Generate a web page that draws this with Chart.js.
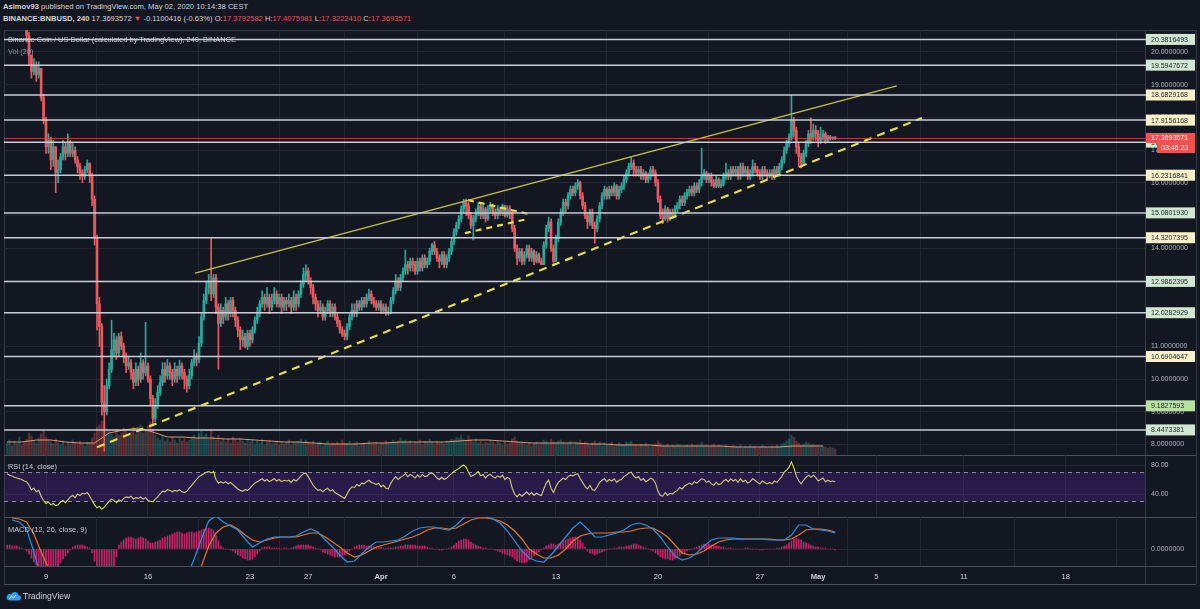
<!DOCTYPE html>
<html lang="en">
<head>
<meta charset="UTF-8">
<title>BNBUSD 240</title>
<script src="https://cdn.jsdelivr.net/npm/chart.js"></script>
<style>
  html, body { margin: 0; padding: 0; background: #131722; }
  body { width: 1200px; height: 609px; position: relative; overflow: hidden;
         font-family: "Liberation Sans", Arial, sans-serif; color: #d1d4dc; }
  .hdr { position: absolute; left: 3px; font-size: 7.6px; white-space: nowrap; color: #d1d4dc; }
  .red { color: #ef5350; }
  .ln { position: absolute; background: #363a45; }
  .sep { position: absolute; background: #4a4e5a; }
  canvas { position: absolute; left: 0; }
  .lbl { position: absolute; left: 8px; font-size: 7.4px; white-space: nowrap; color: #c8cbd3; }
  #logo { position: absolute; left: 6px; top: 591px; font-size: 8.6px; color: #d1d4dc; }
  #logo svg { vertical-align: -2px; margin-right: 2px; }
</style>
</head>
<body>
<div class="hdr" style="top:2px"><b>Asimov93</b> published on TradingView.com, May 02, 2020 10:14:38 CEST</div>
<div class="hdr" style="top:14px"><b>BINANCE:BNBUSD, 240</b> 17.3693572 <span class="red">&#9660;</span> -0.1100416 (-0.63%) O:<span class="red">17.3792582</span> H:<span class="red">17.4075981</span> L:<span class="red">17.3222410</span> C:<span class="red">17.3693571</span></div>

<div class="ln" style="left:4px;top:30px;width:1192px;height:1px"></div>
<div class="ln" style="left:4px;top:30px;width:1px;height:554px"></div>
<div class="ln" style="left:1196px;top:30px;width:1px;height:554px"></div>
<div class="ln" style="left:1145px;top:30px;width:1px;height:554px"></div>
<div class="sep" style="left:4px;top:455px;width:1192px;height:1px"></div>
<div class="sep" style="left:4px;top:517px;width:1192px;height:1px"></div>
<div class="sep" style="left:4px;top:566px;width:1192px;height:1px"></div>
<div class="sep" style="left:4px;top:584px;width:1192px;height:1px"></div>

<canvas id="cMain" width="1200" height="425" style="top:30px"></canvas>
<canvas id="cRsi" width="1200" height="62" style="top:455px"></canvas>
<canvas id="cMacd" width="1200" height="67" style="top:517px"></canvas>

<div class="lbl" style="top:35px">Binance Coin / US Dollar (calculated by TradingView), 240, BINANCE</div>
<div class="lbl" style="top:47px;color:#9598a1">Vol (20)</div>
<div class="lbl" style="top:462px">RSI (14, close)</div>
<div class="lbl" style="top:525px">MACD (12, 26, close, 9)</div>
<div id="logo"><svg width="15" height="10" viewBox="0 0 15 10"><path d="M3 9.6h9.2a2.7 2.7 0 0 0 .3-5.4A3.9 3.9 0 0 0 5.3 3 2.9 2.9 0 0 0 3 9.6z" fill="#2e9ef4"/><path d="M3.5 7.6l2.2-2.4 1.8 1.6 2.6-2.8" stroke="#fff" stroke-width="1" fill="none"/></svg>TradingView</div>

<script>
// 4h candles, index 0 = Mar 6 08:00
const firstOpen = 21.1;
const closes = [
  21.3,21.5,21.2,21.4,21.0,21.3,21.1,20.9,20.5,19.9,
  19.4,19.6,19.3,19.5,18.6,17.9,17.1,17.3,16.7,17.1,
  16.3,16.4,16.8,17.1,16.9,17.2,16.9,17.0,16.7,16.5,
  16.3,16.2,16.4,16.6,16.2,15.5,14.3,12.3,11.6,9.3,
  9.0,9.8,10.3,10.9,11.2,10.8,11.3,11.0,10.7,10.4,
  10.5,10.2,9.9,10.3,10.0,10.5,10.2,10.4,10.0,9.4,
  8.8,9.2,9.6,9.9,10.3,10.1,10.4,10.2,10.0,10.3,
  10.1,10.4,10.2,10.0,9.8,10.1,10.5,10.7,10.6,11.1,
  11.9,12.4,12.8,13.0,12.6,13.1,12.2,11.7,12.1,11.9,
  12.3,12.0,12.4,12.1,11.8,11.5,11.2,11.3,11.0,11.4,
  11.2,11.5,11.8,12.0,12.3,12.5,12.3,12.5,12.2,12.4,
  12.6,12.3,12.5,12.2,12.4,12.3,12.4,12.2,12.5,12.3,
  12.6,12.9,13.2,13.3,13.0,12.8,12.5,12.3,12.1,12.2,
  11.9,12.1,12.3,12.0,12.2,11.9,11.7,11.5,11.4,11.3,
  11.6,11.9,12.1,12.0,12.3,12.2,12.4,12.3,12.5,12.6,
  12.4,12.3,12.2,12.3,12.1,12.2,12.0,12.05,12.4,12.7,
  13.0,12.8,13.1,13.3,13.5,13.4,13.6,13.5,13.3,13.6,
  13.4,13.7,13.5,13.6,13.9,14.1,13.9,13.7,13.6,13.8,
  13.5,13.7,13.9,14.2,14.5,14.7,14.9,15.2,15.4,15.3,
  15.0,14.7,14.9,15.1,15.3,15.0,15.2,14.9,15.2,15.3,
  15.1,15.0,15.2,15.1,15.3,15.0,15.2,15.1,14.6,14.0,
  13.7,13.9,13.6,13.8,14.0,13.7,13.9,13.6,13.8,13.6,
  13.5,14.1,14.6,14.8,14.0,13.6,14.3,14.8,15.1,15.4,
  15.3,15.6,15.8,15.7,15.9,16.0,15.6,15.3,15.0,14.8,
  15.1,14.7,14.6,14.9,15.3,15.6,15.8,15.6,15.8,15.7,
  15.9,15.6,15.8,15.9,16.1,16.3,16.5,16.6,16.4,16.3,
  16.4,16.2,16.3,16.1,16.2,16.4,16.3,16.0,15.5,15.0,
  14.9,15.2,14.9,15.1,15.0,15.2,15.3,15.5,15.4,15.6,
  15.7,15.8,15.7,15.9,15.8,16.0,16.2,16.3,16.1,16.2,
  16.0,15.9,16.1,15.9,15.95,16.2,16.3,16.2,16.4,16.3,
  16.4,16.2,16.5,16.3,16.4,16.2,16.3,16.5,16.4,16.3,
  16.2,16.4,16.3,16.2,16.3,16.2,16.4,16.3,16.5,16.7,
  17.0,17.2,17.4,17.9,17.6,17.1,16.8,16.6,16.9,17.2,
  17.5,17.4,17.6,17.5,17.3,17.4,17.5,17.3,17.4,17.35,17.38,17.37
];
const highs = [
  21.6,21.8,21.6,21.6,21.5,21.5,21.4,21.2,21.0,20.6,
  19.9,19.8,19.7,19.7,19.5,18.7,18.0,17.5,17.4,17.3,
  17.1,16.7,16.9,17.3,17.2,17.5,17.3,17.2,17.1,16.8,
  16.6,16.4,16.5,16.7,16.6,16.3,15.6,14.4,12.5,11.7,
  9.8,10.0,10.5,11.8,11.4,11.3,11.4,11.44,11.1,10.8,
  10.7,10.6,10.3,10.5,10.4,10.8,10.6,11.74,10.5,10.1,
  9.5,9.4,9.8,10.1,10.5,10.5,10.6,10.5,10.3,10.5,
  10.4,10.58,10.5,10.3,10.1,10.3,10.6,10.9,10.8,11.3,
  12.0,12.6,13.0,13.2,14.3,13.2,13.2,12.3,12.3,12.2,
  12.5,12.4,12.5,12.5,12.2,11.9,11.6,11.5,11.4,11.5,
  11.5,11.6,11.9,12.2,12.4,12.7,12.6,12.8,12.6,12.6,
  12.8,12.7,12.6,12.6,12.5,12.5,12.6,12.5,12.7,12.6,
  12.7,13.0,13.4,13.5,13.4,13.1,12.9,12.6,12.4,12.4,
  12.3,12.2,12.4,12.4,12.3,12.3,12.0,11.8,11.6,11.5,
  11.7,12.0,12.3,12.3,12.4,12.4,12.5,12.5,12.6,12.75,
  12.7,12.5,12.4,12.4,12.4,12.3,12.3,12.2,12.5,12.8,
  13.2,13.1,13.2,13.4,13.95,13.6,13.7,13.7,13.6,13.7,
  13.7,13.8,13.8,13.7,14.0,14.16,14.2,14.0,13.8,13.9,
  13.9,13.8,14.0,14.3,14.6,14.8,15.0,15.3,15.5,15.5,
  15.4,15.1,15.0,15.2,15.4,15.35,15.3,15.25,15.3,15.4,
  15.35,15.2,15.3,15.25,15.35,15.3,15.3,15.3,15.15,14.7,
  14.1,14.0,14.0,13.9,14.1,14.1,14.0,13.95,13.9,13.85,
  13.7,14.2,14.7,14.95,14.9,14.1,14.4,14.9,15.2,15.5,
  15.5,15.7,15.9,15.9,16.0,16.1,16.05,15.7,15.4,15.1,
  15.2,15.2,14.8,15.0,15.4,15.7,15.9,15.85,15.9,15.9,
  16.0,15.95,15.9,16.0,16.2,16.4,16.6,16.8,16.7,16.5,
  16.5,16.5,16.4,16.35,16.3,16.5,16.5,16.4,16.1,15.6,
  15.2,15.3,15.25,15.2,15.2,15.3,15.4,15.6,15.6,15.7,
  15.8,15.9,15.9,16.0,16.0,16.1,17.06,16.4,16.35,16.3,
  16.3,16.1,16.2,16.15,16.1,16.3,16.6,16.4,16.5,16.5,
  16.5,16.5,16.6,16.6,16.5,16.5,16.4,16.7,16.6,16.5,
  16.4,16.5,16.5,16.4,16.4,16.4,16.5,16.5,16.6,16.8,
  17.1,17.3,17.5,18.68,18.0,17.7,17.2,16.9,17.0,17.3,
  17.6,17.98,17.8,17.75,17.6,17.7,17.6,17.55,17.45,17.45,17.41,17.41
];
const lows = [
  21.0,21.2,21.0,21.1,20.8,20.9,20.9,20.7,20.3,19.6,
  19.2,19.3,19.1,19.2,18.5,17.8,16.9,16.9,16.4,16.5,
  15.7,16.0,16.3,16.7,16.7,16.8,16.8,16.8,16.6,16.3,
  16.1,16.0,16.1,16.3,16.0,15.3,14.1,11.5,11.0,8.9,
  7.8,8.9,9.7,10.2,10.7,10.6,10.7,10.9,10.5,10.2,
  10.3,10.0,9.7,9.8,9.8,9.9,10.0,10.1,9.9,9.2,
  8.57,8.7,9.1,9.5,9.8,9.9,10.0,10.0,9.8,9.9,
  9.9,10.0,10.0,9.7,9.6,9.7,10.0,10.4,10.4,10.5,
  11.0,11.8,12.3,12.6,12.4,12.5,12.0,10.3,11.6,11.7,
  11.8,11.8,11.9,11.9,11.6,11.3,10.9,11.0,10.95,10.9,
  11.0,11.1,11.4,11.7,11.9,12.2,12.1,12.2,12.0,12.1,
  12.3,12.2,12.2,12.0,12.1,12.1,12.2,12.0,12.1,12.1,
  12.2,12.5,12.8,13.0,12.9,12.6,12.3,12.1,11.9,12.0,
  11.8,11.8,12.0,11.9,11.9,11.8,11.6,11.4,11.3,11.2,
  11.2,11.5,11.8,11.9,11.9,12.1,12.1,12.2,12.2,12.4,
  12.3,12.2,12.1,12.1,12.0,12.0,11.95,11.95,12.0,12.3,
  12.6,12.7,12.7,13.0,13.2,13.2,13.3,13.3,13.2,13.2,
  13.3,13.3,13.4,13.4,13.5,13.8,13.8,13.6,13.4,13.5,
  13.4,13.4,13.6,13.8,14.1,14.4,14.6,14.8,15.1,15.0,
  14.9,14.6,14.25,14.8,15.0,14.9,14.9,14.8,14.85,15.1,
  15.0,14.9,14.9,15.0,15.0,14.95,14.95,14.9,14.5,13.9,
  13.5,13.6,13.5,13.5,13.7,13.6,13.6,13.5,13.55,13.55,
  13.5,13.5,14.0,14.5,13.9,13.5,13.6,14.2,14.7,15.0,
  15.1,15.2,15.5,15.6,15.6,15.8,15.5,15.2,14.9,14.6,
  14.7,14.6,14.15,14.5,14.8,15.2,15.5,15.5,15.5,15.6,
  15.6,15.5,15.5,15.7,15.8,16.0,16.2,16.4,16.2,16.2,
  16.2,16.1,16.1,16.0,16.0,16.1,16.2,15.9,15.4,14.9,
  14.75,14.85,14.8,14.85,14.9,14.95,15.1,15.2,15.3,15.3,
  15.5,15.6,15.6,15.6,15.7,15.7,15.9,16.1,16.0,16.0,
  15.9,15.85,15.85,15.85,15.85,15.9,16.1,16.1,16.1,16.2,
  16.2,16.1,16.1,16.2,16.2,16.1,16.1,16.2,16.3,16.2,
  16.1,16.1,16.2,16.1,16.15,16.1,16.1,16.2,16.2,16.4,
  16.6,16.9,17.1,17.3,17.4,16.9,16.5,16.45,16.55,16.8,
  17.1,17.2,17.3,17.3,17.1,17.2,17.3,17.2,17.25,17.3,17.32,17.32
];
const volumes = [
  12,15,9,14,11,18,10,13,16,22,19,14,12,17,21,24,18,15,13,11,
  16,12,10,14,9,13,11,15,12,10,14,11,9,13,12,17,22,28,30,34,
  32,26,24,21,18,25,20,22,27,24,19,23,28,21,26,30,22,25,29,33,
  26,20,17,15,19,14,16,13,18,15,12,17,14,16,13,15,18,20,17,22,
  24,19,21,16,26,18,15,20,14,17,13,16,12,18,15,13,17,14,12,16,
  13,15,11,14,12,16,10,13,15,11,12,14,10,13,11,12,15,10,13,12,
  14,16,12,15,13,11,14,10,12,13,9,11,14,10,12,11,13,10,15,12,
  11,14,10,12,13,9,11,12,10,14,12,11,13,10,12,11,14,12,13,15,
  12,14,17,13,15,12,14,11,13,12,15,10,14,12,16,13,11,14,12,13,
  11,14,13,16,15,18,17,20,16,14,19,15,13,16,12,14,11,13,12,15,
  13,11,14,12,10,13,11,12,16,18,14,12,13,11,10,12,9,11,13,10,
  12,15,14,11,16,13,12,14,15,13,11,12,14,10,13,12,15,11,13,12,
  10,12,14,11,13,9,12,10,11,13,9,10,12,11,10,13,12,14,11,10,
  9,11,10,12,9,8,10,11,14,12,10,9,11,8,10,9,11,10,8,9,
  10,8,11,9,10,8,13,9,10,8,9,11,8,10,9,8,10,9,8,10,
  9,8,10,7,9,8,10,8,9,7,8,10,9,7,8,9,8,10,9,11,
  12,14,16,20,18,14,12,10,11,13,12,10,11,9,10,8,9,8,7,8,
  7,6
];
// Vol (20) average, one reading per day (every 6th candle)
const volAvg = [
  13,13,15,15,13,12,12,22,25,27,
  23,18,18,17,17,16,16,15,14,13,
  13,12,11,11,11,12,12,13,13,13,
  13,14,15,15,14,13,12,12,12,12,
  11,11,10,10,10,9,9,9,9,9,
  8,8,8,8,9,9,9
];
const rsi = [
  68,66,65,63,62,61,60,58,57,52, 46,48,43,45,37,31,27,29,25,27,
  24,25,29,31,28,32,36,38,35,40, 38,41,40,42,37,31,25,21,23,19,
  22,26,30,33,31,28,32,30,34,36, 35,37,33,35,34,36,33,35,31,30,
  29,33,36,40,44,43,46,45,43,45, 44,46,43,42,44,48,52,56,60,64,
  66,68,70,71,69,71,60,55,57,55, 57,54,56,53,50,47,45,44,46,45,
  48,52,55,57,59,61,58,60,57,59, 61,58,60,57,59,58,59,56,60,58,
  61,65,68,69,64,58,52,48,45,46, 43,46,48,44,46,42,40,38,36,34,
  40,46,50,49,53,51,55,54,57,59, 56,55,53,55,50,52,48,47,55,60,
  64,60,63,65,68,64,67,65,62,66, 63,67,64,65,68,69,66,62,60,63,
  60,62,65,68,71,73,75,78,80,77, 70,64,66,68,71,65,67,62,66,67,
  64,62,65,63,66,60,63,61,48,40, 36,40,37,40,43,39,42,38,41,39,
  38,47,55,59,48,42,50,56,59,62, 60,64,66,65,67,68,61,56,50,47,
  52,46,45,50,56,59,61,57,60,58, 61,56,59,60,64,66,69,70,65,62,
  64,59,61,57,59,62,60,55,44,38, 37,42,38,41,40,43,45,49,47,51,
  53,55,53,57,55,58,61,60,56,58, 54,52,56,53,54,58,60,57,61,58,
  60,56,61,57,59,55,57,61,59,56, 54,58,56,54,56,54,58,56,60,64,
  70,73,77,84,76,65,58,54,59,63, 66,63,66,63,58,60,62,57,59,57,
  58,57
];
// MACD and signal in hundredths, read every 3rd candle starting at candle 2
const macdLine = [
  29,27,20,-3,-28,-45,-60,-70,-75,-80,
  -80,-90,-130,-140,-130,-115,-100,-95,-95,-100,
  -95,-80,-62,-45,-28,-10,10,28,33,27,
  23,19,10,2,6,10,12,12,12,13,
  17,20,17,9,2,-6,-13,-12,-5,2,
  7,7,8,9,13,18,21,22,22,20,
  19,24,31,33,33,32,30,26,18,8,
  -2,-9,-12,-13,-6,3,12,21,27,20,
  12,12,14,16,19,24,26,24,20,12,
  2,-7,-11,-9,-4,3,9,11,11,11,
  10,10,10,10,9,9,9,14,24,24,
  20,19,18,16
];
const signalLine = [
  31,30,27,15,-3,-19,-35,-50,-60,-68,
  -72,-77,-95,-110,-118,-118,-115,-112,-108,-106,
  -104,-98,-88,-75,-58,-38,-17,3,16,22,
  24,20,14,9,7,9,11,12,12,12,
  14,16,16,12,7,2,-4,-8,-6,-2,
  2,4,6,8,10,12,15,19,21,21,
  20,21,25,29,31,31,30,28,24,18,
  10,0,-5,-9,-9,-6,0,8,13,15,
  16,16,16,17,17,18,20,21,21,17,
  12,4,-4,-6,-5,-2,3,7,9,10,
  10,10,10,10,10,9,9,10,14,19,
  20,20,19,17
];
const macdHist = [
  4,4,3,3, 3,2,1,0,-2, -5,-9,-13,-16, -20,-22,-24,-25,-25,-24,-22,-20,
  -17,-14,-10,-7,-4,-1, 2,3,4,4,4,3,2,1,
  -4,-12,-20,-25,-26,-26,-25,-23,-20,-17,-8,
  4,7,9,11,12,12,11,10,11,12,11,10,8,6, 6,7,8,9,
  11,12,13,14,15,16,17,17,16,15,16,17,17,16,17,18,
  19,20,21,21,20,19,14,8, 3,1,0,0,-1,-2,-4,-6,
  -7,-9,-10,-11,-11,-10,-8,-5,-2,
  1,2,2,2,1,1,1,1,0,1,1,0,1,2,3,4,4, 4,4,4,3,2,1,0,
  -1,-3,-4,-5,-6,-7,-8,-8,-8,-7,-6,-4,-2, 0,2,3,4,4,4,3,3,
  3,2,2,2,2,1,1,1,1,1,2,2,3,3,4,4,4,4,4,3,3,3,3,2,1,1,0,0,-1,-1,0,0,1,
  2,4,6,8,9,10,10,9,7,5,4, 3,2,1,1,0,0,0,-1,-2,-3,-4,-5,-6,-7,
  -8,-10,-12,-13,-14,-14,-13,-11,-9,-7,-5,-3, -1,1,3,4,5,5,4,5,
  6,8,9,10,11,12,12,11,9,6, 2,-2,-4,-5,-6,-5,-4,
  -3,-2,-1,0,0,1,1,2,2,2,3,3, 4,5,5,4,
  3,2,1,0,-1,-2,-4,-6,-8,-9,-10,-10,-11, -11,-10,-9,-7,-5,-4,-2,-1,
  0,1,2,3,4,5,5,5,4,4,3,3,2,
  2,1,1,1,0,0,0,0,0,1,1,0,0,0,0,-1,-1,0,0,0,0,0,1,1,2,3,4,6,
  8,10,11,10,9,7, 6,5,4,3,2,2,1,1,1,0,0,0,-1
];

// horizontal levels drawn on the chart
const levels = [20.3816493, 19.5947672, 18.6829168, 17.9156168, 17.2428632, 16.2316841,
  15.0801930, 14.3207395, 12.9862395, 12.0282929, 10.6904647, 9.1827593, 8.4473381];
const levelTags = ['g','g','c','c','g','c','g','c','g','g','c','b','g'];
const lastPrice = 17.3693571;
const countdown = '03:45:23';

// trendlines: [candle index, price]
const upperLine = [[77.4, 13.24], [366.4, 18.96]];
const lowerLine = [[37, 7.92], [376.7, 17.98]];
const flagTop = [[189.8, 15.47], [214.5, 15.05]];
const flagBottom = [[188.5, 14.46], [214.1, 14.89]];

// x axis
const tickIdx = [16, 58, 100, 124, 154, 184, 226, 268, 310, 334, 358, 394, 436];
const tickLabels = ['9','16','23','27','Apr','6','13','20','27','May','5','11','18'];
const priceTicks = [8,9,10,11,12,13,14,15,16,17,18,19,20];
const rsiTicks = [40, 80];
const rsiBounds = [30, 70];

Chart.defaults.font.family = '"Liberation Sans", Arial, sans-serif';
Chart.defaults.font.size = 7;
Chart.defaults.color = '#b2b5be';

const UP = '#2aa89b', DOWN = '#e95a5e';
const opens = closes.map((c, i) => (i === 0 ? firstOpen : closes[i - 1]));
const isUp = closes.map((c, i) => c >= opens[i]);

function xAxis(showLabels) {
  return {
    type: 'linear', min: -1.3, max: 468.6, offset: false,
    grid: { color: '#232733', drawTicks: false },
    border: { display: false },
    afterBuildTicks: s => { s.ticks = tickIdx.map(v => ({ value: v })); },
    ticks: {
      display: showLabels, padding: 6, color: '#d1d4dc', autoSkip: false, maxRotation: 0,
      callback: (v, k) => tickLabels[k],
      font: c => ({ size: 7.6, weight: /[A-Za-z]/.test(tickLabels[c.index] || '') ? 'bold' : 'normal' })
    },
    afterFit: s => { s.height = showLabels ? 18 : 0; s.paddingLeft = 0; s.paddingRight = 0; }
  };
}
function yAxis(min, max, ticks, fmt) {
  return {
    position: 'right', min: min, max: max,
    grid: { color: '#232733', drawTicks: false },
    border: { display: false },
    afterBuildTicks: s => { s.ticks = ticks.map(v => ({ value: v })); },
    ticks: { padding: 6, color: '#b2b5be', font: { size: 7 }, callback: fmt },
    afterFit: s => { s.width = 51; s.paddingTop = 0; s.paddingBottom = 0; }
  };
}
const baseOpts = {
  responsive: false, animation: false, events: [],
  layout: { padding: { left: 4, right: 4, top: 0, bottom: 0 } },
  plugins: { legend: { display: false }, tooltip: { enabled: false } }
};
const pts = arr => arr.map(p => ({ x: p[0], y: p[1] }));
const trend = (arr, color, width, dash) => ({
  type: 'line', data: pts(arr), borderColor: color, borderWidth: width, borderDash: dash,
  pointRadius: 0, order: 1, yAxisID: 'y'
});

const tagColors = { g: '#cfe8cf', c: '#fbf1c6', b: '#b6e2a0' };
const levelPlugin = {
  id: 'levels',
  afterDatasetsDraw(chart) {
    const { ctx, chartArea: a, scales: { y } } = chart;
    ctx.save();
    const py = Math.round(y.getPixelForValue(lastPrice)) + 0.5;
    ctx.strokeStyle = 'rgba(239,83,80,0.7)';
    ctx.lineWidth = 1;
    ctx.beginPath(); ctx.moveTo(a.left, py); ctx.lineTo(a.right + 2, py); ctx.stroke();
    ctx.strokeStyle = '#c9ccd3';
    ctx.lineWidth = 1.5;
    levels.forEach(v => {
      const yy = y.getPixelForValue(v);
      ctx.beginPath(); ctx.moveTo(a.left, yy); ctx.lineTo(a.right + 2, yy); ctx.stroke();
    });
    ctx.restore();
  },
  afterDraw(chart) {
    const { ctx, chartArea: a, scales: { y } } = chart;
    ctx.save();
    ctx.font = '7px "Liberation Sans", Arial, sans-serif';
    ctx.textBaseline = 'middle';
    levels.forEach((v, k) => {
      const yy = y.getPixelForValue(v);
      ctx.fillStyle = tagColors[levelTags[k]];
      ctx.fillRect(a.right + 1, yy - 5.5, 49, 11);
      ctx.fillStyle = '#1e222d';
      ctx.fillText(v.toFixed(7), a.right + 6, yy + 0.5);
    });
    const py = y.getPixelForValue(lastPrice);
    ctx.fillStyle = '#ef5350';
    ctx.fillRect(a.right + 1, py - 5, 49, 10);
    ctx.fillRect(a.right + 12, py + 5, 38, 10);
    ctx.fillStyle = '#ffffff';
    ctx.fillText(lastPrice.toFixed(7), a.right + 6, py + 0.5);
    ctx.fillText(countdown, a.right + 16, py + 10.5);
    ctx.restore();
  }
};

new Chart(document.getElementById('cMain'), {
  data: {
    datasets: [
      { type: 'bar', yAxisID: 'yv', grouped: false, order: 10, barThickness: 1.6,
        data: volumes.map((v, i) => ({ x: i, y: v })),
        backgroundColor: volumes.map((v, i) => isUp[i] ? 'rgba(38,166,154,0.35)' : 'rgba(239,83,80,0.35)') },
      { type: 'line', yAxisID: 'yv', order: 9, borderColor: '#d99a70', borderWidth: 1, pointRadius: 0,
        data: volAvg.map((v, k) => ({ x: k * 6, y: v })) },
      { type: 'bar', yAxisID: 'y', grouped: false, order: 3, barThickness: 1,
        data: highs.map((h, i) => ({ x: i, y: [lows[i], h] })),
        backgroundColor: isUp.map(u => u ? UP : DOWN) },
      { type: 'bar', yAxisID: 'y', grouped: false, order: 2, barThickness: 2, minBarLength: 1,
        data: closes.map((c, i) => ({ x: i, y: [opens[i], c] })),
        backgroundColor: isUp.map(u => u ? UP : DOWN) },
      trend(upperLine, '#c8c23c', 1.4, []),
      trend(lowerLine, '#e9df3a', 2.2, [8, 6]),
      trend(flagTop, '#e9df3a', 2.2, [6, 5]),
      trend(flagBottom, '#e9df3a', 2.2, [6, 5])
    ]
  },
  options: Object.assign({}, baseOpts, {
    scales: {
      x: xAxis(false),
      y: yAxis(7.68, 20.67, priceTicks, v => v.toFixed(7)),
      yv: { display: false, min: 0, max: 425 }
    }
  }),
  plugins: [levelPlugin]
});

const rsiBand = {
  id: 'rsiBand',
  beforeDatasetsDraw(chart) {
    const { ctx, chartArea: a, scales: { y } } = chart;
    const yTop = y.getPixelForValue(rsiBounds[1]);
    const yBot = y.getPixelForValue(rsiBounds[0]);
    ctx.save();
    ctx.fillStyle = 'rgba(110,40,200,0.24)';
    ctx.fillRect(a.left, yTop, a.right - a.left, yBot - yTop);
    ctx.strokeStyle = '#8a8d96';
    ctx.lineWidth = 1;
    ctx.setLineDash([4, 4]);
    [yTop, yBot].forEach(p => {
      const yy = Math.round(p) + 0.5;
      ctx.beginPath(); ctx.moveTo(a.left, yy); ctx.lineTo(a.right, yy); ctx.stroke();
    });
    ctx.restore();
  }
};
new Chart(document.getElementById('cRsi'), {
  type: 'line',
  data: {
    datasets: [{
      data: rsi.map((v, i) => ({ x: i, y: v })),
      borderColor: '#d2ca78', borderWidth: 1.1, pointRadius: 0,
      segment: {
        borderColor: c => (c.p0.parsed.y < rsiBounds[0] || c.p1.parsed.y < rsiBounds[0] ||
          c.p0.parsed.y > rsiBounds[1] || c.p1.parsed.y > rsiBounds[1]) ? '#d8e04a' : undefined
      }
    }]
  },
  options: Object.assign({}, baseOpts, {
    scales: { x: xAxis(false), y: yAxis(8.3, 93.8, rsiTicks, v => v.toFixed(2)) }
  }),
  plugins: [rsiBand]
});

new Chart(document.getElementById('cMacd'), {
  data: {
    datasets: [
      { type: 'bar', grouped: false, order: 3, barThickness: 1,
        data: macdHist.map((v, i) => ({ x: i, y: v })),
        backgroundColor: 'rgba(214,38,112,0.9)' },
      { type: 'line', order: 1, borderColor: '#2f8fe0', borderWidth: 1.2, pointRadius: 0,
        data: macdLine.map((v, k) => ({ x: 2 + 3 * k, y: v })) },
      { type: 'line', order: 2, borderColor: '#e8762a', borderWidth: 1.2, pointRadius: 0,
        data: signalLine.map((v, k) => ({ x: 2 + 3 * k, y: v })) }
    ]
  },
  options: Object.assign({}, baseOpts, {
    scales: { x: xAxis(true), y: yAxis(-17, 32, [0], () => '0.0000000') }
  })
});
</script>
</body>
</html>
